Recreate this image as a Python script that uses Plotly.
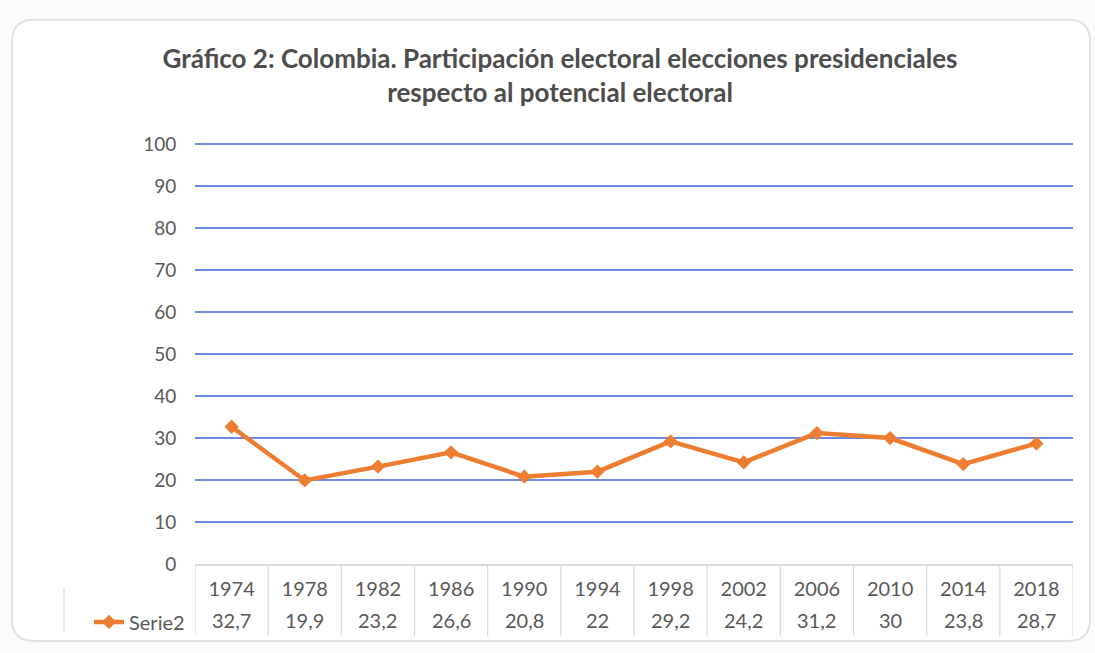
import plotly.graph_objects as go

years = ["1974", "1978", "1982", "1986", "1990", "1994", "1998", "2002", "2006", "2010", "2014", "2018"]
serie2 = [32.7, 19.9, 23.2, 26.6, 20.8, 22, 29.2, 24.2, 31.2, 30, 23.8, 28.7]
y_ticks = [0, 10, 20, 30, 40, 50, 60, 70, 80, 90, 100]
title_text = "Gráfico 2: Colombia. Participación electoral elecciones presidenciales<br>respecto al potencial electoral"
series_name = "Serie2"

W, H = 1095, 653
L, R, T, B = 195, 22, 143, 83
PW, PH = W - L - R, H - T - B

FONT = "Lato, sans-serif"
ORANGE = "#ED7D31"
GRID = "#6f8ae6"
BORDER = "#dadada"
TXT = "#595959"

def px_x(p):
    return (p - L) / PW

def px_y(p):
    return (H - B - p) / PH

xi = list(range(len(years)))

fig = go.Figure()
fig.add_trace(go.Scatter(
    x=xi, y=serie2, mode="lines+markers", name=series_name,
    line=dict(color=ORANGE, width=4.5),
    marker=dict(symbol="diamond", size=11, color=ORANGE),
    showlegend=True,
))

# data-table value row
for i, v in zip(xi, serie2):
    fig.add_annotation(x=i, xref="x", y=px_y(627), yref="paper",
                       xanchor="center", yanchor="middle",
                       text=f"{v:g}".replace(".", ","), showarrow=False,
                       font=dict(family=FONT, size=20, color=TXT))

shapes = []
# card background
x0, x1 = px_x(12), px_x(1090)
y0, y1 = px_y(648), px_y(18)
rx, ry = 22 / PW, 22 / PH
path = (f"M{x0+rx},{y1} L{x1-rx},{y1} Q{x1},{y1} {x1},{y1-ry} "
        f"L{x1},{y0+ry} Q{x1},{y0} {x1-rx},{y0} L{x0+rx},{y0} Q{x0},{y0} {x0},{y0+ry} "
        f"L{x0},{y1-ry} Q{x0},{y1} {x0+rx},{y1} Z")
shapes.append(dict(type="path", xref="paper", yref="paper", path=path,
                   fillcolor="white", line=dict(color="#e2e2e2", width=2), layer="below"))
# table vertical separators
for i in range(len(years) + 1):
    shapes.append(dict(type="line", xref="x", yref="paper", x0=i - 0.5, x1=i - 0.5,
                       y0=0, y1=px_y(643), line=dict(color=BORDER, width=1.2)))
# legend cell left border
shapes.append(dict(type="line", xref="paper", yref="paper", x0=px_x(64), x1=px_x(64),
                   y0=px_y(594), y1=px_y(638), line=dict(color=BORDER, width=1.2)))

fig.update_layout(
    width=W, height=H,
    margin=dict(l=L, r=R, t=T, b=B),
    paper_bgcolor="#fbfbfb",
    plot_bgcolor="rgba(0,0,0,0)",
    font=dict(family=FONT, color=TXT, size=20),
    title=dict(text=title_text, x=560 / W, xanchor="center", y=1 - 68 / H, yanchor="top",
               yref="container",
               font=dict(family=FONT, size=26, color="#4d4d4d", weight="bold")),
    xaxis=dict(range=[-0.5, len(years) - 0.5], tickvals=xi, ticktext=years,
               showgrid=False, zeroline=False, showline=True, linecolor=BORDER, linewidth=1.5,
               ticks="outside", ticklen=6, tickcolor="rgba(0,0,0,0)",
               tickfont=dict(family=FONT, size=20, color=TXT), fixedrange=True),
    yaxis=dict(range=[0, 100.3], tickvals=y_ticks, showgrid=True, gridcolor=GRID, gridwidth=1.5,
               zeroline=False, showline=False, ticks="outside", ticklen=14,
               tickcolor="rgba(0,0,0,0)",
               tickfont=dict(family=FONT, size=19, color=TXT)),
    legend=dict(x=px_x(89), xanchor="left", y=px_y(609), yanchor="top",
                bgcolor="rgba(0,0,0,0)", font=dict(family=FONT, size=20, color=TXT),
                itemwidth=30),
    shapes=shapes,
)

fig.write_html("out.html")
